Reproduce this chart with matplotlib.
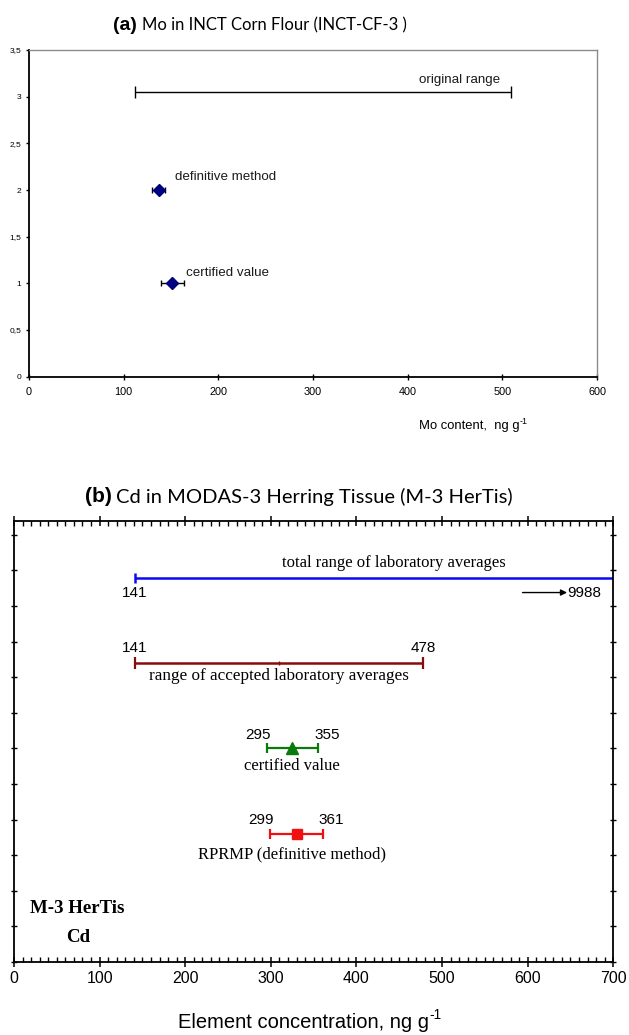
import matplotlib
matplotlib.use("Agg")
import matplotlib.pyplot as plt
from matplotlib.ticker import MultipleLocator

# ---------------- data ----------------
# panel (a): Mo in INCT Corn Flour
a_range = [112, 509]            # original range
a_range_y = 3.05
a_points_labels = ["definitive method", "certified value"]
a_points_x = [137, 151.5]
a_points_err = [7, 12.5]
a_points_y = [2, 1]
a_xticks = [0, 100, 200, 300, 400, 500, 600]
a_yticks = [0, 0.5, 1, 1.5, 2, 2.5, 3, 3.5]
a_yticklabels = ["0", "0,5", "1", "1,5", "2", "2,5", "3", "3,5"]

# panel (b): Cd in MODAS-3 Herring Tissue
b_total = [141, 9988]
b_accepted = [141, 478]
b_certified = [295, 355]
b_certified_val = 325
b_rprmp = [299, 361]
b_rprmp_val = 330
b_rows_y = [10.8, 8.41, 6.0, 3.61]
b_xticks = [0, 100, 200, 300, 400, 500, 600, 700]

W, H = 629, 1035
fig = plt.figure(figsize=(W / 100, H / 100), dpi=100)
renderer = fig.canvas.get_renderer()

def fx(px):
    return px / W

def fy(py):
    return 1 - py / H

SANS = "Liberation Sans"
SERIF = "Liberation Serif"
TITLE = "Lato"

def label_with_sup(cx, cy, base, sup, fs, family):
    """Centered label with a superscript, positions in pixel (top-left origin)."""
    tb = fig.text(0, 0, base, fontsize=fs, fontfamily=family, ha="left", va="center")
    ts = fig.text(0, 0, sup, fontsize=fs * 0.68, fontfamily=family, ha="left", va="center")
    wb = tb.get_window_extent(renderer).width
    ws = ts.get_window_extent(renderer).width
    left = cx - (wb + ws) / 2
    tb.set_position((fx(left), fy(cy)))
    ts.set_position((fx(left + wb + 0.5), fy(cy - fs * 0.45)))

# ---------------- panel (a) ----------------
axa = fig.add_axes([fx(29), fy(376.7), fx(597) - fx(29), fy(50) - fy(376.7)])
axa.set_xlim(0, 600)
axa.set_ylim(0, 3.5)
for s in ("top", "right"):
    axa.spines[s].set_color("#8c8c8c")
    axa.spines[s].set_linewidth(1.0)
for s in ("left", "bottom"):
    axa.spines[s].set_color("black")
    axa.spines[s].set_linewidth(1.3)
axa.set_xticks(a_xticks)
axa.set_xticklabels([str(v) for v in a_xticks], fontsize=7.8, fontfamily=SANS)
axa.set_yticks(a_yticks)
axa.set_yticklabels(a_yticklabels, fontsize=6, fontfamily=SANS)
axa.tick_params(axis="x", direction="inout", length=5, width=1, pad=5)
axa.tick_params(axis="y", direction="out", length=2.5, width=1, pad=3)

# original range
amid_a = (a_range[0] + a_range[1]) / 2
axa.errorbar([amid_a], [a_range_y],
             xerr=[[amid_a - a_range[0]], [a_range[1] - amid_a]],
             fmt="none", ecolor="black", elinewidth=1.0, capsize=4, capthick=1.0)
axa.text(498, 3.18, "original range", ha="right", va="center",
         fontsize=9.6, fontfamily=SANS, color="#1a1a1a")
# points
axa.errorbar(a_points_x, a_points_y, xerr=a_points_err, fmt="D",
             color="#000080", ms=6, mec="#000080", ecolor="black",
             elinewidth=1.0, capsize=2.5, capthick=1.0, zorder=3)
axa.text(154, 2.14, a_points_labels[0], ha="left", va="center",
         fontsize=9.6, fontfamily=SANS, color="#1a1a1a")
axa.text(166, 1.11, a_points_labels[1], ha="left", va="center",
         fontsize=9.6, fontfamily=SANS, color="#1a1a1a")
label_with_sup(473, 426, "Mo content,  ng g", "-1", 9.4, SANS)

# title (a)
fig.text(fx(136.4), fy(25), "(a)", ha="right", va="center", fontsize=14,
         fontweight="bold", fontfamily=SANS)
fig.text(fx(141.5), fy(25), "Mo in INCT Corn Flour (INCT-CF-3 )", ha="left",
         va="center", fontsize=12, fontfamily=TITLE)

# ---------------- panel (b) ----------------
axb = fig.add_axes([fx(14), fy(962), fx(613.3) - fx(14), fy(521) - fy(962)])
axb.set_xlim(0, 700)
axb.set_ylim(0, 12.39)
for s in axb.spines.values():
    s.set_linewidth(1.3)
    s.set_color("black")
axb.set_xticks(b_xticks)
axb.set_xticklabels([str(v) for v in b_xticks], fontsize=11.5, fontfamily=SANS)
axb.xaxis.set_minor_locator(MultipleLocator(10))
axb.yaxis.set_major_locator(MultipleLocator(1))
axb.tick_params(axis="x", which="major", direction="inout", length=7, width=1.1,
                pad=3, top=True)
axb.tick_params(axis="x", which="minor", direction="in", length=3.5, width=1.0,
                top=True)
axb.tick_params(axis="y", which="major", direction="inout", length=4, width=1.0,
                left=True, right=True, labelleft=False)

NUMFS = 11
SERFS = 12
yt, ya, yc, yr = b_rows_y

# total range (blue)
axb.plot(b_total, [yt, yt], color="#0a0af0", lw=1.8, solid_capstyle="butt")
axb.plot([b_total[0]], [yt], marker="|", ms=7, mew=1.8, color="#0a0af0")
axb.text(444, 11.2, "total range of laboratory averages", ha="center",
         va="center", fontsize=SERFS, fontfamily=SERIF)
axb.text(b_total[0], 10.36, str(b_total[0]), ha="center", va="center",
         fontsize=NUMFS, fontfamily=SANS)
axb.annotate("", xy=(646, 10.38), xytext=(594, 10.38),
             arrowprops=dict(arrowstyle="-|>", color="black", lw=1.0,
                             mutation_scale=9, shrinkA=0, shrinkB=0))
axb.text(646, 10.38, str(b_total[1]), ha="left", va="center",
         fontsize=NUMFS, fontfamily=SANS)

# accepted range (maroon)
amid = (b_accepted[0] + b_accepted[1]) / 2
axb.errorbar([amid], [ya], xerr=[[amid - b_accepted[0]], [b_accepted[1] - amid]],
             fmt="|", ms=3, color="#8b0a0a", ecolor="#8b0a0a", elinewidth=1.8,
             capsize=4, capthick=1.6)
axb.text(b_accepted[0], 8.81, str(b_accepted[0]), ha="center", va="center",
         fontsize=NUMFS, fontfamily=SANS)
axb.text(b_accepted[1], 8.81, str(b_accepted[1]), ha="center", va="center",
         fontsize=NUMFS, fontfamily=SANS)
axb.text(amid, 8.03, "range of accepted laboratory averages", ha="center",
         va="center", fontsize=SERFS + 0.3, fontfamily=SERIF)

# certified value (green)
axb.errorbar([b_certified_val], [yc],
             xerr=[[b_certified_val - b_certified[0]], [b_certified[1] - b_certified_val]],
             fmt="^", ms=8, color="#0a7a0a", ecolor="#0a7a0a", elinewidth=1.6,
             capsize=3.5, capthick=1.6)
axb.text(b_certified[0] - 10, 6.37, str(b_certified[0]), ha="center", va="center",
         fontsize=NUMFS, fontfamily=SANS)
axb.text(b_certified[1] + 11, 6.37, str(b_certified[1]), ha="center", va="center",
         fontsize=NUMFS, fontfamily=SANS)
axb.text(b_certified_val, 5.5, "certified value", ha="center", va="center",
         fontsize=SERFS, fontfamily=SERIF)

# RPRMP (red)
axb.errorbar([b_rprmp_val], [yr],
             xerr=[[b_rprmp_val - b_rprmp[0]], [b_rprmp[1] - b_rprmp_val]],
             fmt="s", ms=6.5, color="#f01010", ecolor="#f01010", elinewidth=1.6,
             capsize=3.5, capthick=1.6)
axb.text(b_rprmp[0] - 10, 3.98, str(b_rprmp[0]), ha="center", va="center",
         fontsize=NUMFS, fontfamily=SANS)
axb.text(b_rprmp[1] + 9, 3.98, str(b_rprmp[1]), ha="center", va="center",
         fontsize=NUMFS, fontfamily=SANS)
axb.text(325, 3.03, "RPRMP (definitive method)", ha="center", va="center",
         fontsize=SERFS, fontfamily=SERIF)

axb.text(19, 1.51, "M-3 HerTis", ha="left", va="center", fontsize=13.6,
         fontweight="bold", fontfamily=SERIF)
axb.text(61, 0.70, "Cd", ha="left", va="center", fontsize=13.6,
         fontweight="bold", fontfamily=SERIF)

label_with_sup(309.5, 1022, "Element concentration, ng g", "-1", 14.5, SANS)

# title (b)
fig.text(fx(111.6), fy(497), "(b)", ha="right", va="center", fontsize=15,
         fontweight="bold", fontfamily=SANS)
fig.text(fx(116.5), fy(497), "Cd in MODAS-3 Herring Tissue (M-3 HerTis)",
         ha="left", va="center", fontsize=14.5, fontfamily=TITLE)

fig.savefig("out.png", dpi=100)
